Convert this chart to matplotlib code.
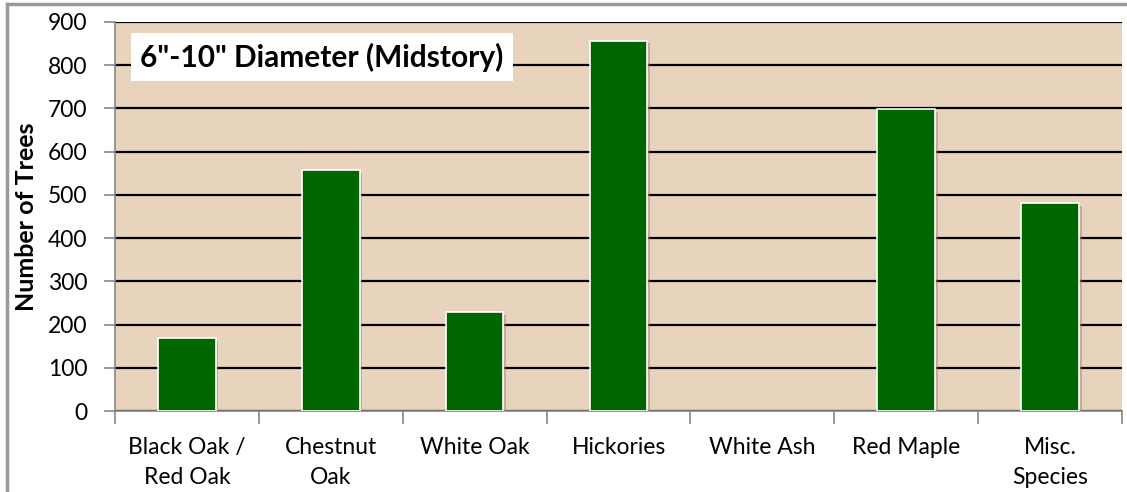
import matplotlib
matplotlib.use("Agg")
import matplotlib.pyplot as plt
from matplotlib.lines import Line2D
import matplotlib.patheffects as pe

categories = ["Black Oak /\nRed Oak", "Chestnut\nOak", "White Oak", "Hickories",
              "White Ash", "Red Maple", "Misc.\nSpecies"]
values = [168, 557, 229, 857, 0, 699, 481]
yticks = [0, 100, 200, 300, 400, 500, 600, 700, 800, 900]
title = "6\"-10\" Diameter (Midstory)"
ylabel = "Number of Trees"

plt.rcParams['font.family'] = ['Lato', 'DejaVu Sans']

W, H = 1127, 492
fig = plt.figure(figsize=(W/100, H/100), dpi=100)
ax = fig.add_axes([115/W, 1-411/H, (1122-115)/W, (411-22)/H])
ax.set_facecolor("#E8D3BD")

x = list(range(len(categories)))
for xi, v in zip(x, values):
    if v <= 0:
        continue
    ax.bar(xi, v, width=0.4, color="#006600", edgecolor="white", linewidth=1.2, zorder=3,
           path_effects=[pe.SimplePatchShadow(offset=(2, -2), shadow_rgbFace="#9a8a7a", alpha=0.5), pe.Normal()])

ax.set_xlim(-0.5, len(categories)-0.5)
ax.set_ylim(0, 900)
ax.set_yticks(yticks)
ax.set_yticklabels([str(v) for v in yticks], fontsize=16.5)
ax.yaxis.grid(True, color="black", linewidth=1.6, zorder=1)
ax.set_axisbelow(True)

ax.set_xticks([i + 0.5 for i in range(-1, len(categories))], minor=False)
ax.set_xticklabels([])
ax.set_xticks(x, minor=True)
ax.set_xticklabels(categories, minor=True, fontsize=16.5, linespacing=1.5)
ax.tick_params(axis='x', which='minor', length=0, pad=19)
ax.tick_params(axis='x', which='major', length=9, color="#888888", width=1.2)
ax.tick_params(axis='y', length=8, color="#888888", width=1.2, pad=12)

for s in ["top", "right"]:
    ax.spines[s].set_visible(False)
ax.spines["left"].set_color("#888888")
ax.spines["left"].set_linewidth(1.2)
ax.spines["bottom"].set_color("#888888")
ax.spines["bottom"].set_linewidth(1.2)

ax.set_ylabel(ylabel, fontsize=18, fontweight="bold")
ax.yaxis.set_label_coords(-77/1007, 0.5)

ax.text(0.025, 0.91, title, transform=ax.transAxes, fontsize=21.5, fontweight="bold",
        ha="left", va="center", zorder=5,
        bbox=dict(boxstyle="square,pad=0.32", facecolor="white", edgecolor="none"))

# outer frame (top and left)
fig.add_artist(Line2D([7/W, 1], [1-4/H, 1-4/H], transform=fig.transFigure, color="#999999", linewidth=2.5))
fig.add_artist(Line2D([7/W, 7/W], [0, 1-4/H], transform=fig.transFigure, color="#999999", linewidth=2.5))

fig.savefig("out.png", dpi=100)
